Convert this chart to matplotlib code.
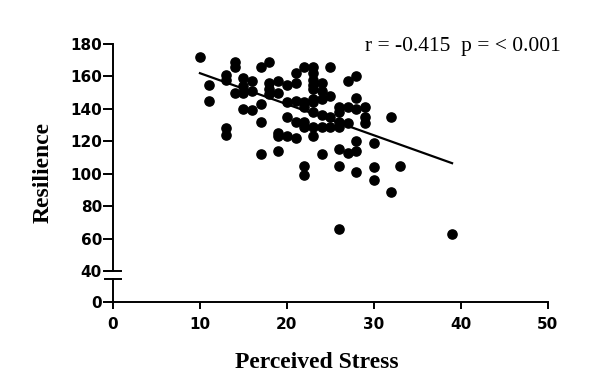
import matplotlib
matplotlib.use("Agg")
import matplotlib.pyplot as plt

# Perceived stress (x) and resilience (y)
stress = ([10] + [11] * 2 + [13] * 4 + [14] * 3 + [15] * 4 + [16] * 3 + [17] * 4
          + [18] * 4 + [19] * 5 + [20] * 4 + [21] * 5 + [22] * 7 + [23] * 10
          + [24] * 6 + [25] * 4 + [26] * 7 + [27] * 4 + [28] * 6 + [29] * 3
          + [30] * 3 + [32] * 2 + [33] + [39])
resilience = [172,
              155, 145,
              161, 158, 128, 124,
              169, 166, 150,
              159, 154, 150, 140,
              157, 151, 139,
              166, 143, 132, 112,
              169, 156, 152, 149,
              157, 150, 125, 123, 114,
              155, 144, 135, 123,
              162, 156, 145, 132, 122,
              166, 144, 141, 132, 129, 105, 99,
              166, 162, 158, 155, 152, 146, 144, 138, 129, 123,
              156, 151, 146, 136, 129, 112,
              166, 148, 135, 129,
              141, 138, 132, 129, 115, 105, 66,
              157, 141, 131, 113,
              160, 147, 140, 120, 114, 101,
              141, 135, 131,
              119, 104, 96,
              135, 89,
              105,
              63]

# regression line end points
fit_x = [10, 39]
fit_y = [162, 106.5]

x_ticks = [0, 10, 20, 30, 40, 50]
y_ticks_top = [40, 60, 80, 100, 120, 140, 160, 180]
annotation = "r = -0.415  p = < 0.001"

fig = plt.figure(figsize=(6.08, 3.84), dpi=100)
W, H = 608, 384
left = 113 / W
width = (547.7 - 113) / W
ax_top = fig.add_axes([left, 1 - 271 / H, width, (271 - 44) / H])
ax_bot = fig.add_axes([left, 1 - 302 / H, width, (302 - 279) / H])

tick_font = dict(family="DejaVu Sans", weight="bold", size=11)

for ax in (ax_top, ax_bot):
  ax.set_xlim(0, 50)
  for side in ("top", "right"):
    ax.spines[side].set_visible(False)
  ax.spines["left"].set_linewidth(1.4)
  ax.spines["bottom"].set_linewidth(1.4)
  ax.tick_params(axis="y", length=7, width=1.4, pad=1)
  ax.tick_params(axis="x", length=5, width=1.4, pad=6)

ax_top.scatter(stress, resilience, s=44, color="black", zorder=3, clip_on=False)
ax_top.plot(fit_x, fit_y, color="black", lw=1.6)
ax_top.set_ylim(40, 180)
ax_top.set_yticks(y_ticks_top)
ax_top.set_yticklabels([str(v) for v in y_ticks_top], fontdict=tick_font)
ax_top.spines["bottom"].set_visible(False)
ax_top.set_xticks([])

ax_bot.set_ylim(0, 23 / 1.63)
ax_bot.set_yticks([0])
ax_bot.set_yticklabels(["0"], fontdict=tick_font)
ax_bot.set_xticks(x_ticks)
ax_bot.set_xticklabels([str(v) for v in x_ticks], fontdict=tick_font)

# break marks on the y axis
ax_top.plot([-0.018, 0.018], [0, 0], transform=ax_top.transAxes,
            color="black", lw=1.4, clip_on=False)
ax_bot.plot([-0.018, 0.018], [1, 1], transform=ax_bot.transAxes,
            color="black", lw=1.4, clip_on=False)

label_font = dict(family="Liberation Serif", weight="bold", size=17)
fig.text(317 / W, 1 - 362 / H, "Perceived Stress", ha="center", va="center", **label_font)
fig.text(43 / W, 1 - 173 / H, "Resilience", ha="center", va="center",
         rotation=90, **label_font)
fig.text(463 / W, 1 - 47 / H, annotation, ha="center", va="center",
         family="Liberation Serif", size=15.5)

fig.savefig("out.png", dpi=100, facecolor="white")
